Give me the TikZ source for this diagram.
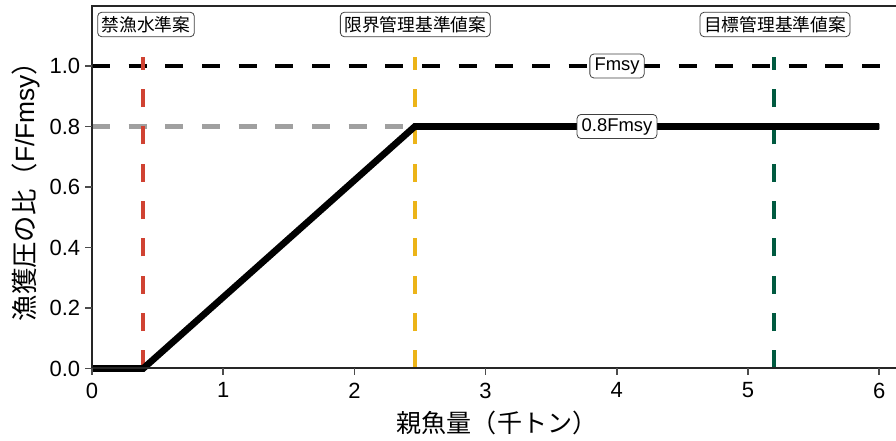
\documentclass[tikz,border=0pt]{standalone}
\usepackage{fontspec}
\setmainfont{Liberation Sans}
\newfontfamily\cjk{Noto Sans CJK JP}
\definecolor{limred}{RGB}{208,66,50}
\definecolor{limyel}{RGB}{236,180,24}
\definecolor{limgrn}{RGB}{0,90,64}
\definecolor{refgray}{RGB}{160,160,160}
\begin{document}
\begin{tikzpicture}[x=0.75pt,y=-0.75pt,
  axisline/.style={line width=1.5pt,black!85},
  tickmark/.style={line width=1.2pt,black!70},
  ticklab/.style={font=\fontsize{16.5}{16.5}\selectfont,inner sep=0pt},
  hdash/.style={line width=3.6pt,dash pattern=on 13.5pt off 14pt},
  vdash/.style={line width=3pt,dash pattern=on 13.5pt off 14.5pt},
  refbox/.style={draw=black!75,line width=0.6pt,rounded corners=3pt,fill=white,inner xsep=3pt,inner ysep=3pt,font=\cjk\fontsize{13.3}{13.3}\selectfont},
  valbox/.style={draw=black!75,line width=0.6pt,rounded corners=3pt,fill=white,inner xsep=3.5pt,inner ysep=2.8pt,font=\fontsize{13.8}{13.8}\selectfont},
  axtitle/.style={font=\fontsize{18.8}{18.8}\selectfont,inner sep=0pt}]
\useasboundingbox (0,0) rectangle (896,441);
% named coordinates
\coordinate (o) at (92,368.5);
\coordinate (xend) at (896,368.5);
\coordinate (tl) at (92,6);
\coordinate (tr) at (896,6);
\coordinate (g0) at (92,126.5);
\coordinate (g1) at (883,126.5);
\coordinate (b0) at (92,66);
\coordinate (b1) at (884,66);
\coordinate (r0) at (143.2,368.5);
\coordinate (r1) at (143.2,57);
\coordinate (y0) at (414.8,368.5);
\coordinate (y1) at (414.8,57);
\coordinate (gr0) at (774.2,368.5);
\coordinate (gr1) at (774.2,57);
\coordinate (k0) at (92,368.5);
\coordinate (k1) at (143.2,368.5);
\coordinate (k2) at (414.8,126.5);
\coordinate (k3) at (879.2,126.5);
% horizontal reference lines
\draw[hdash,refgray] (g0) -- (g1);
\draw[hdash,black] (b0) -- (b1);
% vertical reference lines
\draw[vdash,limred] (r0) -- (r1);
\draw[vdash,limyel] (y0) -- (y1);
\draw[vdash,limgrn] (gr0) -- (gr1);
% control rule
\draw[line width=5pt,black,line join=miter] (k0) -- (k1) -- (k2) -- (k3);
% frame
\draw[axisline] (tr) -- (tl) -- (o) -- (xend);
% y ticks
\foreach \v/\yy in {0.0/368.5,0.2/308,0.4/247.5,0.6/187,0.8/126.5,1.0/66}{
  \draw[tickmark] (85,\yy) -- (92,\yy);
  \node[ticklab,anchor=east] (yt\v) at (80.5,\yy) {\v};
}
% x ticks
\foreach \v in {0,1,2,3,4,5,6}{
  \draw[tickmark] ({92+131.2*\v},368.5) -- ({92+131.2*\v},375.5);
  \node[ticklab,anchor=north] (xt\v) at ({92+131.2*\v},382.5) {\v};
}
% labels
\node[refbox] (lr) at (146,24.5) {禁漁水準案};
\node[refbox] (ly) at (415.3,24.5) {限界管理基準値案};
\node[refbox] (lg) at (775,24.5) {目標管理基準値案};
\node[valbox] (lf) at (617,66) {Fmsy};
\node[valbox] (lf8) at (617,126.5) {0.8Fmsy};
% axis titles
\node[axtitle] (xtitle) at (497,423) {{\cjk 親魚量（千トン）}};
\node[axtitle,rotate=90,font=\fontsize{19.8}{19.8}\selectfont] (ytitle) at (26,185) {{\cjk 漁獲圧の比（}F/Fmsy{\cjk ）}};
\end{tikzpicture}
\end{document}
